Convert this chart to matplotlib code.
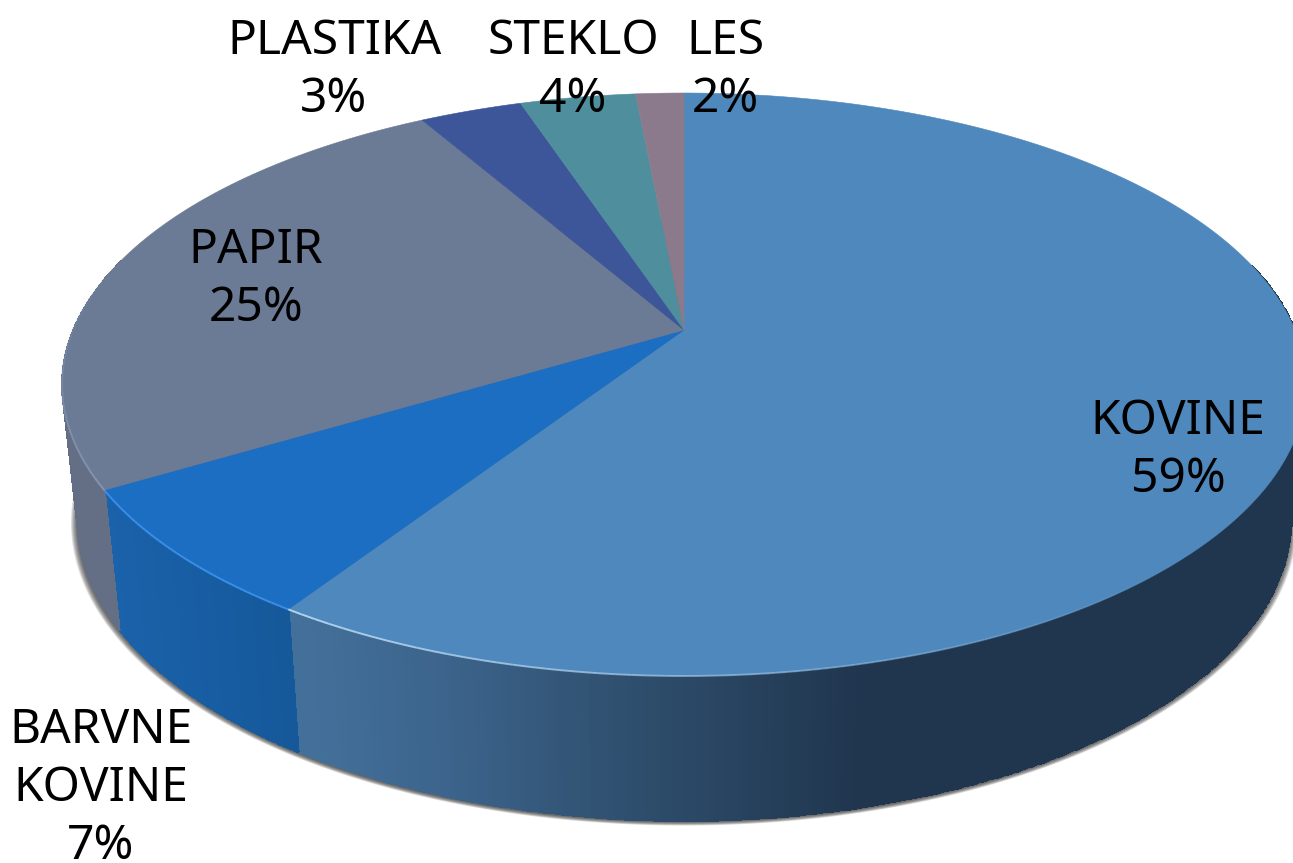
import numpy as np
from matplotlib import pyplot as plt
from matplotlib.colors import LinearSegmentedColormap

# shares, printed labels are the rounded figures
categories = ["KOVINE", "BARVNE\nKOVINE", "PAPIR", "PLASTIKA", "STEKLO", "LES"]
shares = [59.2, 7.2, 25.3, 3.2, 3.6, 1.5]
percent_labels = ["59%", "7%", "25%", "3%", "4%", "2%"]

top_colors = ["#4f88bd", "#1b6ec2", "#6c7b95", "#3c5699", "#4f8e9d", "#8a7a8c"]
wall_ramps = [
    ["#43709a", "#3c648c", "#325475", "#294561", "#20364f", "#20364f"],
    ["#1a62ab", "#155899"],
    ["#646f85", "#5f6b82"],
]
rim_colors = ["#bcdcf5", "#3d94ee", "#8a98b2"]

# x centre and y of the percent line of each label
label_x = [1178, 101, 256, 334, 573, 725]
label_y = [474, 841, 303, 94, 94, 94]
LINE_STEP = 58

# perspective of the disc, in pixels of the 1293x863 picture
CX, CY = 684, 330
WIDTH, DEPTH, TILT = 611, 281.3, 0.187
BASE_Y, BASE_SY, BASE_SX = 464.3, 1.028, 0.975


def project(theta):
    """Clockwise angle from the top of the disc -> picture x, y"""
    u, v = np.sin(theta), -np.cos(theta)
    w = 1 - TILT * v
    return CX + WIDTH * u / w, CY + DEPTH * v / w


def base(x, y):
    return CX + BASE_SX * (x - CX), BASE_Y + BASE_SY * (y - CY)


edges = np.deg2rad(np.cumsum([0] + shares) / np.sum(shares) * 360)

fig = plt.figure(figsize=(12.93, 8.63), dpi=100)
ax = fig.add_axes([0, 0, 1, 1])
ax.set_xlim(0, 1293)
ax.set_ylim(863, 0)
ax.axis("off")

# soft shadow under the base
full = np.linspace(0, 2 * np.pi, 400)
bx, by = base(*project(full))
for grow in np.linspace(1.011, 1.0, 10):
    ax.fill(CX + grow * (bx - CX), by.mean() + 2 + grow * (by - by.mean()),
            color="#303030", alpha=0.12, lw=0, zorder=1)

# side walls, shaded along x; the back part is hidden by the top face
wall_spans = [(np.deg2rad(76), edges[1]), (edges[1], edges[2]), (edges[2], np.deg2rad(285))]
for i, ramp in enumerate(wall_ramps):
    cmap = LinearSegmentedColormap.from_list("wall%d" % i, ramp)
    theta = np.linspace(wall_spans[i][0], wall_spans[i][1], 300)
    tx, ty = project(theta)
    fx, fy = base(tx, ty)
    xs = np.vstack([tx, fx])
    ys = np.vstack([ty, fy])
    mid = (tx[:-1] + tx[1:]) / 2
    shade = (mid - 300) / 700 if i == 0 else (mid - 100) / 200
    ax.pcolormesh(xs, ys, np.clip(shade, 0, 1)[None, :], cmap=cmap, vmin=0, vmax=1,
                  shading="flat", edgecolors="face", linewidth=0.8, zorder=2 + i * 0.1)

# top face
for i, color in enumerate(top_colors):
    theta = np.linspace(edges[i], edges[i + 1], 300)
    tx, ty = project(theta)
    ax.fill(np.r_[CX, tx], np.r_[CY, ty], color=color, lw=0.4, ec=color, zorder=3)

# light rim along the front edge, fading out towards the right
rim_spans = [(np.deg2rad(135), edges[1]), (edges[1], edges[2]), (edges[2], np.deg2rad(285))]
for i, (start, stop) in enumerate(rim_spans):
    steps = np.linspace(start, stop, 60)
    rx, ry = project(steps)
    for k in range(len(steps) - 1):
        if i == 0:
            fade = (k + 1) / 59
        elif i == 2:
            fade = 1 - k / 59
        else:
            fade = 1
        ax.plot(rx[k:k + 2], ry[k:k + 2], color=rim_colors[i], lw=1.4,
                alpha=0.9 * fade, solid_capstyle="butt", zorder=4)

for name, pct, x, y in zip(categories, percent_labels, label_x, label_y):
    lines = name.split("\n") + [pct]
    for n, line in enumerate(lines):
        ax.text(x, y - (len(lines) - 1 - n) * LINE_STEP, line, ha="center", va="center_baseline",
                fontsize=34.5, family="Noto Sans", color="black", zorder=5)

plt.savefig("out.png", dpi=100)
